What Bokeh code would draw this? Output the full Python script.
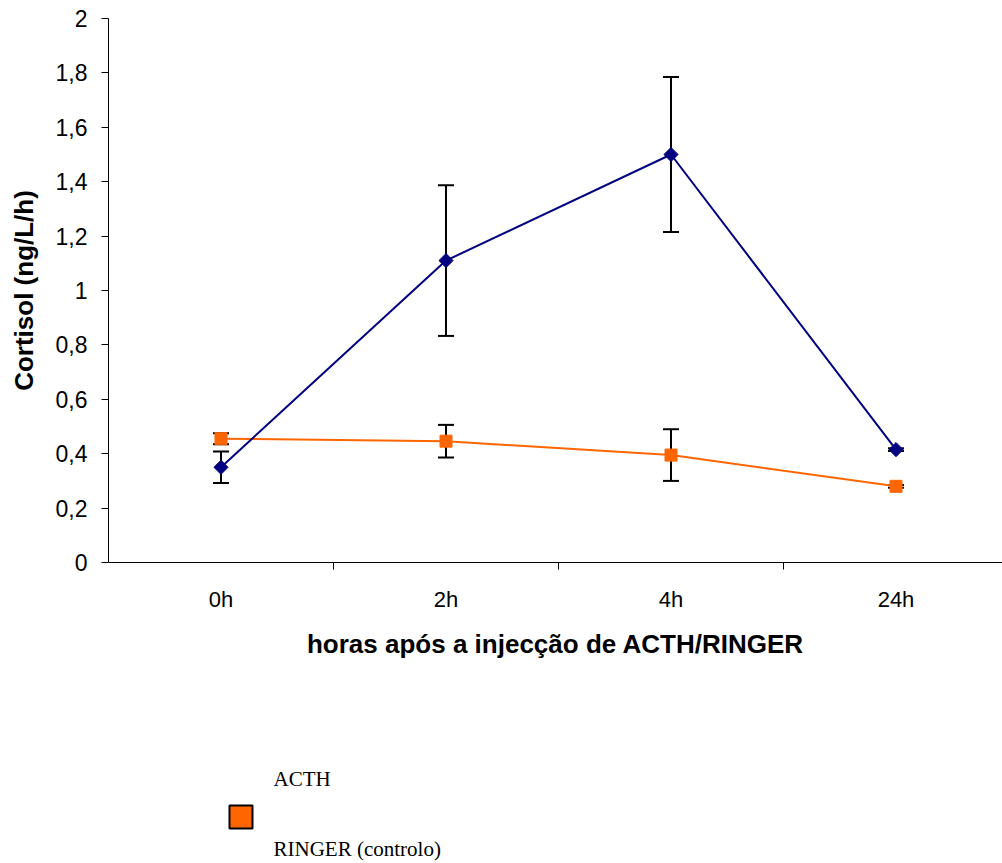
import math
from bokeh.plotting import figure
from bokeh.layouts import column
from bokeh.models import Range1d, FixedTicker, ColumnDataSource, Whisker, TeeHead
from bokeh.core.properties import value
from bokeh.embed import file_html
from bokeh.resources import INLINE

# Sampling times and mean cortisol (ng/L/h) with error bars
categories = ["0h", "2h", "4h", "24h"]
acth_mean = [0.35, 1.11, 1.50, 0.415]
acth_err = [0.058, 0.277, 0.285, 0.005]
ringer_mean = [0.455, 0.446, 0.395, 0.28]
ringer_err = [0.02, 0.06, 0.095, 0.005]
y_ticks = [0, 0.2, 0.4, 0.6, 0.8, 1.0, 1.2, 1.4, 1.6, 1.8, 2.0]
y_tick_labels = ["0", "0,2", "0,4", "0,6", "0,8", "1", "1,2", "1,4", "1,6", "1,8", "2"]
series_names = ["ACTH", "RINGER (controlo)"]

NAVY = "#000080"
ORANGE = "#FF6600"
SANS = "Liberation Sans"
SERIF = "Liberation Serif"

# each time point sits in the middle of its own band
xpos = [i + 0.5 for i in range(len(categories))]

def band_source(mean, err):
    return ColumnDataSource(dict(
        x=xpos, y=mean,
        lower=[m - e for m, e in zip(mean, err)],
        upper=[m + e for m, e in zip(mean, err)],
    ))

acth_src = band_source(acth_mean, acth_err)
ringer_src = band_source(ringer_mean, ringer_err)

p = figure(width=1002, height=680, output_backend="svg", toolbar_location=None,
           x_range=Range1d(0, 3.9733), y_range=Range1d(0, 2),
           min_border_left=108, min_border_right=0, min_border_top=18,
           min_border_bottom=118)
p.outline_line_color = None
p.xgrid.visible = False
p.ygrid.visible = False
p.background_fill_color = "white"
p.border_fill_color = "white"

# y axis
p.yaxis.ticker = FixedTicker(ticks=y_ticks, minor_ticks=[])
p.yaxis.major_label_overrides = {t: s for t, s in zip(y_ticks, y_tick_labels)}
p.yaxis.major_tick_in = 0
p.yaxis.major_tick_out = 7
p.yaxis.major_tick_line_color = "black"
p.yaxis.major_label_standoff = 14
p.yaxis.major_label_text_font_size = "23px"
p.yaxis.axis_label = "Cortisol (ng/L/h)"
p.yaxis.axis_label_standoff = 14

# x axis: labels at band centres, tick marks at band boundaries
p.xaxis.ticker = FixedTicker(ticks=xpos, minor_ticks=[1, 2, 3])
p.xaxis.major_label_overrides = {x: c for x, c in zip(xpos, categories)}
p.xaxis.major_tick_line_color = None
p.xaxis.major_tick_in = 0
p.xaxis.major_tick_out = 0
p.xaxis.minor_tick_in = 0
p.xaxis.minor_tick_out = 7
p.xaxis.minor_tick_line_color = "black"
p.xaxis.major_label_standoff = 17
p.xaxis.major_label_text_font_size = "22px"
p.xaxis.axis_label = "horas após a injecção de ACTH/RINGER"
p.xaxis.axis_label_standoff = 14

for ax in (p.xaxis, p.yaxis):
    ax.axis_line_color = "black"
    ax.axis_line_width = 1
    ax.major_label_text_font = SANS
    ax.major_label_text_color = "black"
    ax.axis_label_text_font = SANS
    ax.axis_label_text_font_style = "bold"
    ax.axis_label_text_font_size = "26px"
    ax.axis_label_text_color = "black"

# error bars
for src in (ringer_src, acth_src):
    p.add_layout(Whisker(source=src, base="x", lower="lower", upper="upper",
                         line_color="black", line_width=2,
                         upper_head=TeeHead(size=16, line_color="black", line_width=2),
                         lower_head=TeeHead(size=16, line_color="black", line_width=2)))

# control series
p.line("x", "y", source=ringer_src, line_color=ORANGE, line_width=2)
p.scatter("x", "y", source=ringer_src, marker="square", size=12,
          fill_color=ORANGE, line_color=ORANGE)

# ACTH series (diamond = square turned by 45 degrees)
p.line("x", "y", source=acth_src, line_color=NAVY, line_width=2)
p.scatter("x", "y", source=acth_src, marker="square", size=10, angle=math.pi / 4,
          fill_color=NAVY, line_color=NAVY)

# legend panel underneath; its frame lines up with the chart frame,
# so the x range is expressed in page pixels from 108 to 1002
leg = figure(width=1002, height=183, output_backend="svg", toolbar_location=None,
             x_range=Range1d(108, 1002), y_range=Range1d(0, 183),
             x_axis_type=None, y_axis_type=None,
             min_border_left=108, min_border_right=0, min_border_top=0,
             min_border_bottom=0)
leg.outline_line_color = None
leg.xgrid.visible = False
leg.ygrid.visible = False
leg.background_fill_color = "white"
leg.border_fill_color = "white"

leg.text(x=[273, 273], y=[85, 15], text=series_names,
         text_font=value(SERIF), text_font_size="21px",
         text_baseline="middle", text_align="left", text_color="black")
leg.scatter(x=[240.5], y=[46.5], marker="square", size=23,
            fill_color=ORANGE, line_color="black", line_width=2)

open("out.html", "w").write(file_html(column(p, leg, spacing=0), INLINE))
